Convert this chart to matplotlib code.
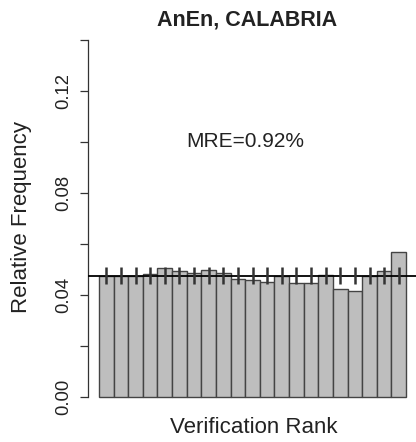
import matplotlib
matplotlib.use("Agg")
import matplotlib.pyplot as plt
import numpy as np

plt.rcParams["font.family"] = ["Liberation Sans", "DejaVu Sans"]

# Relative frequency of the verification rank of the observation in the ensemble
rank_freq = [0.0473, 0.0473, 0.0473, 0.0481, 0.0507, 0.0494, 0.0486,
             0.0500, 0.0486, 0.0463, 0.0460, 0.0451, 0.0473, 0.0448,
             0.0448, 0.0480, 0.0425, 0.0417, 0.0473, 0.0494, 0.0567]
ci_half_width = 0.0033
mre_label = "MRE=0.92%"
title = "AnEn, CALABRIA"
y_ticks = [0.00, 0.02, 0.04, 0.06, 0.08, 0.10, 0.12, 0.14]
y_ticklabels = ["0.00", "", "0.04", "", "0.08", "", "0.12", ""]

ranks = np.arange(1, len(rank_freq) + 1)
expected = 1.0 / len(rank_freq)

fig = plt.figure(figsize=(4.16, 4.42), dpi=100)
ax = fig.add_axes([88 / 416, 30.7 / 442, 328 / 416, 385.6 / 442])

ax.bar(ranks, rank_freq, width=1.0, color="#bebebe", edgecolor="#444444",
       linewidth=1.0, zorder=2)
ax.axhline(expected, color="black", linewidth=1.3, zorder=3)
ax.vlines(ranks, expected - ci_half_width, expected + ci_half_width,
          color="#333333", linewidth=1.8, zorder=4)

ax.set_xlim(-0.252, 22.18)
ax.set_ylim(-0.0056, 0.1456)

for side in ["top", "right", "bottom"]:
    ax.spines[side].set_visible(False)
ax.spines["left"].set_bounds(0, 0.14)
ax.spines["left"].set_linewidth(0.9)
ax.spines["left"].set_color("#333333")

ax.set_xticks([])
ax.set_yticks(y_ticks)
ax.set_yticklabels(y_ticklabels, rotation=90, va="center", fontsize=13.3,
                   color="#222222")
ax.tick_params(axis="y", length=5.8, width=0.9, pad=5.5, color="#333333")

ax.text(10.5, 0.1, mre_label, ha="center", va="center", fontsize=15,
        color="#222222")
ax.text(0.485, 1.015, title, transform=ax.transAxes, ha="center",
        va="center", fontsize=15.5, fontweight="bold", color="#222222")
ax.text(0.506, -0.043, "Verification Rank", transform=ax.transAxes,
        ha="center", va="center", fontsize=16, color="#222222")
ax.text(-0.204, 0.504, "Relative Frequency", transform=ax.transAxes,
        ha="center", va="center", rotation=90, fontsize=16, color="#222222")

fig.savefig("out.png", dpi=100)
